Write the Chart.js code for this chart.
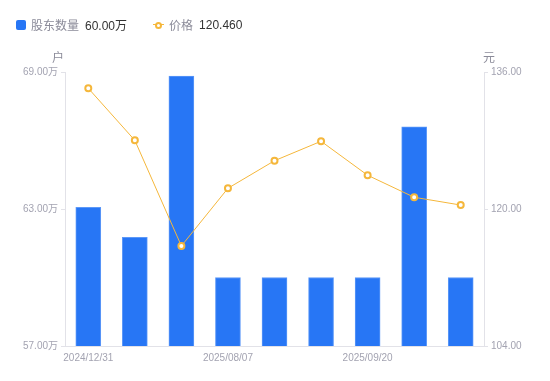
<!DOCTYPE html>
<html>
<head>
<meta charset="utf-8">
<script src="https://cdn.jsdelivr.net/npm/chart.js@4"></script>
<style>
  body { margin: 0; background: #fff; font-family: "Liberation Sans", "Noto Sans CJK SC", sans-serif; }
  #wrap { position: relative; width: 550px; height: 381px; }
  #legend { position: absolute; left: 16px; top: 16px; font-size: 12px; display: flex; align-items: center; }
  .item { display: flex; align-items: center; margin-right: 26px; }
  .name { color: #8b8b99; margin-right: 6px; }
  .val { color: #333; }
  .sq { width: 10px; height: 10px; background: #2776f5; border-radius: 2px; margin-right: 5px; }
  .ln { position: relative; width: 11px; height: 10px; margin-right: 5px; }
  .ln:before { content: ""; position: absolute; left: 0; right: 0; top: 4.5px; height: 1px; background: #f5b73b; }
  .ln:after { content: ""; position: absolute; left: 2px; top: 2px; width: 3px; height: 3px; border: 2px solid #f5b73b; border-radius: 50%; background: #fff; }
</style>
</head>
<body>
<div id="wrap">
  <canvas id="chart" width="550" height="381"></canvas>
  <div id="legend">
    <div class="item"><span class="sq"></span><span class="name">股东数量</span><span class="val">60.00万</span></div>
    <div class="item"><span class="ln"></span><span class="name">价格</span><span class="val">120.460</span></div>
  </div>
</div>
<script>
// data
var dates = ['2024/12/31', '2025/03/31', '2025/06/30', '2025/08/07', '2025/08/20', '2025/08/31', '2025/09/20', '2025/09/30', '2025/10/20'];
var holders = [63.07, 61.76, 68.82, 60.00, 60.00, 60.00, 60.00, 66.60, 60.00]; // 万户
var prices = [134.10, 128.02, 115.68, 122.42, 125.64, 127.91, 123.94, 121.37, 120.46]; // 元
var shownDates = [0, 3, 6];

var tickFont = { size: 10, family: '"Liberation Sans", "Noto Sans CJK SC", sans-serif' };
var tickGray = '#a3a3b1';
var lineGray = '#e2e2e8';

// unit names above both y axes
var unitTitles = {
  id: 'unitTitles',
  afterDraw: function (chart) {
    var ctx = chart.ctx;
    var top = chart.chartArea.top;
    ctx.save();
    ctx.font = '12px "Liberation Sans", "Noto Sans CJK SC", sans-serif';
    ctx.fillStyle = '#8b8b99';
    ctx.textAlign = 'center';
    ctx.textBaseline = 'middle';
    ctx.fillText('户', chart.scales.y.right - 7, top - 13);
    ctx.fillText('元', chart.scales.y2.left + 5, top - 13);
    ctx.restore();
  }
};

new Chart(document.getElementById('chart'), {
  data: {
    labels: dates,
    datasets: [
      {
        type: 'line',
        label: '价格',
        data: prices,
        yAxisID: 'y2',
        borderColor: '#f5b73b',
        borderWidth: 1,
        pointRadius: 3,
        pointBorderWidth: 2,
        pointBackgroundColor: '#fff',
        pointBorderColor: '#f5b73b',
        tension: 0,
        order: 1
      },
      {
        type: 'bar',
        label: '股东数量',
        data: holders,
        yAxisID: 'y',
        backgroundColor: '#2776f5',
        borderColor: '#5c98f8',
        borderWidth: 1,
        barThickness: 25,
        order: 2
      }
    ]
  },
  options: {
    responsive: false,
    animation: false,
    layout: { padding: { top: 72, left: 0, right: 0, bottom: 0 } },
    plugins: { legend: { display: false }, tooltip: { enabled: false } },
    scales: {
      x: {
        offset: true,
        grid: { display: false, drawTicks: false },
        border: { color: lineGray },
        ticks: {
          autoSkip: false,
          maxRotation: 0,
          padding: 6,
          color: tickGray,
          font: tickFont,
          callback: function (v, i) { return shownDates.indexOf(i) >= 0 ? dates[i] : ''; }
        },
        afterFit: function (s) { s.height = 35; }
      },
      y: {
        position: 'left',
        min: 57,
        max: 69,
        grid: { drawOnChartArea: false, tickLength: 4, tickColor: lineGray },
        border: { color: lineGray },
        ticks: {
          stepSize: 6,
          padding: 3,
          color: tickGray,
          font: tickFont,
          callback: function (v) { return v.toFixed(2) + '万'; }
        },
        afterFit: function (s) { s.width = 65; }
      },
      y2: {
        position: 'right',
        min: 104,
        max: 136,
        grid: { drawOnChartArea: false, tickLength: 4, tickColor: lineGray },
        border: { color: lineGray },
        ticks: {
          stepSize: 16,
          padding: 3,
          color: tickGray,
          font: tickFont,
          callback: function (v) { return v.toFixed(2); }
        },
        afterFit: function (s) { s.width = 66; }
      }
    }
  },
  plugins: [unitTitles]
});
</script>
</body>
</html>
